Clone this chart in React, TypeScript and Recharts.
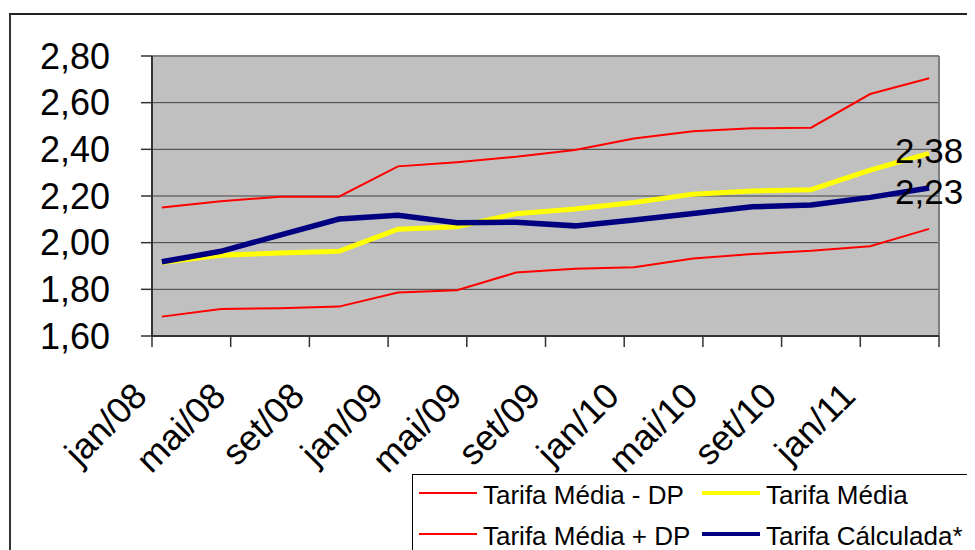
import React from "react";
import {
  LineChart,
  Line,
  XAxis,
  YAxis,
  CartesianGrid,
  ReferenceLine,
} from "recharts";

// quarterly points
const periods = [
  "jan/08", "abr/08", "jul/08", "out/08",
  "jan/09", "abr/09", "jul/09", "out/09",
  "jan/10", "abr/10", "jul/10", "out/10",
  "jan/11", "abr/11",
];
const mediaMenosDP = [
  1.683, 1.716, 1.719, 1.726, 1.786, 1.796, 1.872, 1.888, 1.895, 1.932, 1.951,
  1.965, 1.985, 2.059,
];
const media = [
  1.915, 1.946, 1.956, 1.963, 2.058, 2.068, 2.124, 2.144, 2.172, 2.208, 2.221,
  2.227, 2.311, 2.383,
];
const mediaMaisDP = [
  2.151, 2.178, 2.197, 2.197, 2.327, 2.345, 2.368, 2.397, 2.446, 2.477, 2.49,
  2.493, 2.637, 2.705,
];
const calculada = [
  1.918, 1.963, 2.032, 2.101, 2.117, 2.085, 2.088, 2.072, 2.097, 2.125, 2.154,
  2.161, 2.194, 2.234,
];

const xTickLabels = [
  "jan/08", "mai/08", "set/08", "jan/09", "mai/09",
  "set/09", "jan/10", "mai/10", "set/10", "jan/11",
];
const xAxisEnd = "mai/11";
const yTicks = [1.6, 1.8, 2.0, 2.2, 2.4, 2.6, 2.8];

const MONTHS = ["jan", "fev", "mar", "abr", "mai", "jun", "jul", "ago", "set", "out", "nov", "dez"];

// months since jan/08 (date axis)
function monthIndex(label: string) {
  const [m, y] = label.split("/");
  return (Number(y) - 8) * 12 + MONTHS.indexOf(m);
}

const fmt = (v: number) => v.toFixed(2).replace(".", ",");

const data = periods.map((p, i) => ({
  m: monthIndex(p) + 0.5,
  menos: mediaMenosDP[i],
  media: media[i],
  mais: mediaMaisDP[i],
  calc: calculada[i],
}));

const xTicks = [...xTickLabels.map(monthIndex), monthIndex(xAxisEnd)];
const xLabelByMonth: Record<number, string> = {};
xTickLabels.forEach((l) => (xLabelByMonth[monthIndex(l)] = l));

const FONT = "'Liberation Sans', Arial, sans-serif";

function XTick(props: any) {
  const { x, y, payload } = props;
  const label = xLabelByMonth[payload.value];
  if (!label) return <g />;
  const ax = x - 3;
  const ay = y + 51;
  return (
    <text
      x={ax}
      y={ay}
      transform={`rotate(-45 ${ax} ${ay})`}
      textAnchor="end"
      fontSize={36}
      fontFamily={FONT}
      fill="#000"
    >
      {label}
    </text>
  );
}

// value label on the last point only; shift nudges the two labels apart
const endLabel = (values: number[], shift: number) => (props: any) => {
  const { x, y, index } = props;
  if (index !== values.length - 1) return <g />;
  return (
    <text
      x={x}
      y={y + shift}
      textAnchor="middle"
      dominantBaseline="central"
      fontSize={35}
      fontFamily={FONT}
      fill="#000"
    >
      {fmt(values[index])}
    </text>
  );
};

const legendItems = [
  { name: "Tarifa Média - DP", color: "#ff0000", width: 2, x: 7, y: 19 },
  { name: "Tarifa Média", color: "#ffff00", width: 4, x: 290, y: 19 },
  { name: "Tarifa Média + DP", color: "#ff0000", width: 2, x: 7, y: 60 },
  { name: "Tarifa Cálculada*", color: "#000080", width: 4, x: 290, y: 60 },
];

export default function App() {
  return (
    <div
      style={{
        position: "relative",
        width: 967,
        height: 542,
        overflow: "hidden",
        background: "#fff",
        fontFamily: FONT,
      }}
    >
      {/* outer chart frame */}
      <div
        style={{
          position: "absolute",
          left: 1,
          top: 5,
          width: 1000,
          height: 1000,
          borderLeft: "2px solid #333",
          borderTop: "2px solid #222",
        }}
      />
      <div style={{ position: "absolute", left: 0, top: 0 }}>
        <LineChart
          width={967}
          height={542}
          data={data}
          margin={{ top: 48, right: 36, bottom: 0, left: 0 }}
        >
          <CartesianGrid
            vertical={false}
            fill="#c0c0c0"
            stroke="#404040"
            strokeWidth={1}
          />
          <XAxis
            dataKey="m"
            type="number"
            domain={[0, monthIndex(xAxisEnd)]}
            ticks={xTicks}
            interval={0}
            height={214}
            tickSize={11}
            tickMargin={0}
            axisLine={{ stroke: "#333", strokeWidth: 2 }}
            tickLine={{ stroke: "#333", strokeWidth: 1.5 }}
            tick={<XTick />}
          />
          <YAxis
            domain={[1.6, 2.8]}
            ticks={yTicks}
            interval={0}
            width={144}
            tickSize={11}
            tickMargin={31}
            tickFormatter={fmt}
            axisLine={{ stroke: "#333", strokeWidth: 2 }}
            tickLine={{ stroke: "#333", strokeWidth: 1.5 }}
            tick={{ fill: "#000", fontSize: 36, fontFamily: FONT }}
          />
          <ReferenceLine y={2.8} stroke="#808080" strokeWidth={2} />
          <ReferenceLine x={monthIndex(xAxisEnd)} stroke="#808080" strokeWidth={2} />
          <Line
            dataKey="menos"
            stroke="#ff0000"
            strokeWidth={2}
            dot={false}
            isAnimationActive={false}
          />
          <Line
            dataKey="media"
            stroke="#ffff00"
            strokeWidth={5}
            dot={false}
            isAnimationActive={false}
            label={endLabel(media, -3)}
          />
          <Line
            dataKey="mais"
            stroke="#ff0000"
            strokeWidth={2}
            dot={false}
            isAnimationActive={false}
          />
          <Line
            dataKey="calc"
            stroke="#000080"
            strokeWidth={5.5}
            dot={false}
            isAnimationActive={false}
            label={endLabel(calculada, 3)}
          />
        </LineChart>
      </div>

      {/* legend */}
      <svg
        style={{ position: "absolute", left: 404, top: 466 }}
        width={600}
        height={120}
      >
        <rect x={0.5} y={0.5} width={620} height={140} fill="#fff" stroke="#000" />
        {legendItems.map((it) => (
          <g key={it.name}>
            <line
              x1={it.x}
              x2={it.x + 58}
              y1={it.y}
              y2={it.y}
              stroke={it.color}
              strokeWidth={it.width}
            />
            <text
              x={it.x + 64}
              y={it.y + 11}
              fontSize={26}
              fontFamily={FONT}
              fill="#000"
            >
              {it.name}
            </text>
          </g>
        ))}
      </svg>
    </div>
  );
}
